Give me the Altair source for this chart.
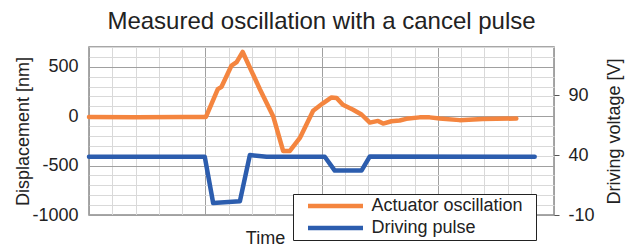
import altair as alt
import pandas as pd

TITLE = "Measured oscillation with a cancel pulse"
series = ["Actuator oscillation", "Driving pulse"]
colors = ["#F4853F", "#2C5DAE"]

# Actuator oscillation (displacement, nm)
osc_t = [0, 2, 4, 5.03, 5.54, 5.70, 6.13, 6.35, 6.61, 7.35, 7.92, 8.35, 8.64, 9.07, 9.64,
         10.06, 10.43, 10.65, 10.92, 11.36, 11.72, 12.08, 12.43, 12.65, 13.01, 13.36,
         13.65, 14.22, 14.65, 15.08, 15.94, 16.93, 18.38]
osc_v = [-8, -10, -8, -8, 273, 297, 512, 547, 650, 273, 0, -352, -352, -220, 55,
         130, 190, 185, 115, 65, 17, -65, -48, -75, -51, -44,
         -27, -12, -12, -24, -40, -28, -24]

# Driving pulse (voltage, V)
pulse_t = [0, 4.98, 5.34, 6.49, 6.92, 7.64, 10.14, 10.57, 11.72, 12.08, 19.17]
pulse_v = [38.5, 38.5, 0, 1.5, 40, 38.5, 38.5, 27, 27, 38.8, 38.5]

x_grid = list(range(0, 21))
disp_grid = list(range(-1000, 701, 100))
volt_ticks = [-10, 40, 90]

df1 = pd.DataFrame({"t": osc_t, "v": osc_v, "s": series[0]})
df2 = pd.DataFrame({"t": pulse_t, "v": pulse_v, "s": series[1]})

FONT = "Liberation Sans"
TXT = "#222222"
PAD = "\u00a0\u00a0\u200b"

color = alt.Color(
    "s:N",
    scale=alt.Scale(domain=series, range=colors),
    legend=alt.Legend(
        orient="none", legendX=204, legendY=147, title=None,
        symbolType="M-1,0H9", symbolSize=121, symbolStrokeWidth=4.5,
        symbolOffset=8.5, labelOffset=49, labelLimit=400,
        labelFontSize=18, labelFont=FONT, labelColor=TXT,
        labelExpr="datum.label + '" + PAD + "'",
        strokeColor="#222222", fillColor="white", padding=3, rowPadding=4,
    ),
)

x = alt.X(
    "t:Q",
    scale=alt.Scale(domain=[0, 20], nice=False, zero=False),
    axis=alt.Axis(
        values=x_grid, labels=False, ticks=False, domain=False,
        title="Time", titleX=176, titleY=28, titleBaseline="alphabetic",
        titleAlign="center",
        gridColor={"condition": {"test": "datum.value % 5 === 0", "value": "#a0a0a0"}, "value": "#d9d9d9"},
        gridWidth=1,
    ),
)

osc = alt.Chart(df1).mark_line(strokeWidth=4.5, strokeJoin="round", strokeCap="round").encode(
    x=x,
    y=alt.Y(
        "v:Q",
        scale=alt.Scale(domain=[-1000, 700], nice=False, zero=False),
        axis=alt.Axis(
            values=disp_grid, orient="left", domain=False, ticks=False,
            labelExpr="datum.value % 500 === 0 ? '' + datum.value : ''",
            labelPadding=11, labelFontSize=18,
            title="Displacement [nm]", titleX=-66, titleY=84, titleAngle=270,
            titleAlign="center", titleBaseline="middle",
            gridColor={"condition": {"test": "datum.value % 500 === 0", "value": "#a0a0a0"}, "value": "#d9d9d9"},
            gridWidth=1,
        ),
    ),
    color=color,
)

pulse = alt.Chart(df2).mark_line(strokeWidth=4.5, strokeJoin="round", strokeCap="round").encode(
    x=x,
    y=alt.Y(
        "v:Q",
        scale=alt.Scale(domain=[-10, 130], nice=False, zero=False),
        axis=alt.Axis(
            values=volt_ticks, orient="right", domain=False, grid=False,
            ticks=True, tickSize=5, tickColor="#555555", tickWidth=1,
            labelExpr="'' + datum.value", labelPadding=9, labelFontSize=18,
            title="Driving voltage [V]", titleX=60, titleY=84, titleAngle=270,
            titleAlign="center", titleBaseline="middle",
        ),
    ),
    color=color,
)

chart = (
    alt.layer(osc, pulse)
    .resolve_scale(y="independent")
    .properties(
        width=465, height=168,
        title=alt.TitleParams(TITLE, fontSize=24, font=FONT, fontWeight="normal",
                              color=TXT, anchor="middle", offset=13),
        autosize=alt.AutoSizeParams(type="none"),
        padding={"left": 81, "top": 39, "right": 72, "bottom": 33},
    )
    .configure_view(stroke="#8a8a8a", strokeWidth=1.5)
    .configure_axis(labelFont=FONT, titleFont=FONT, labelColor=TXT, titleColor=TXT,
                    titleFontSize=18, titleFontWeight="normal")
)

chart.save("out.html", embed_options={"renderer": "svg", "actions": False})
